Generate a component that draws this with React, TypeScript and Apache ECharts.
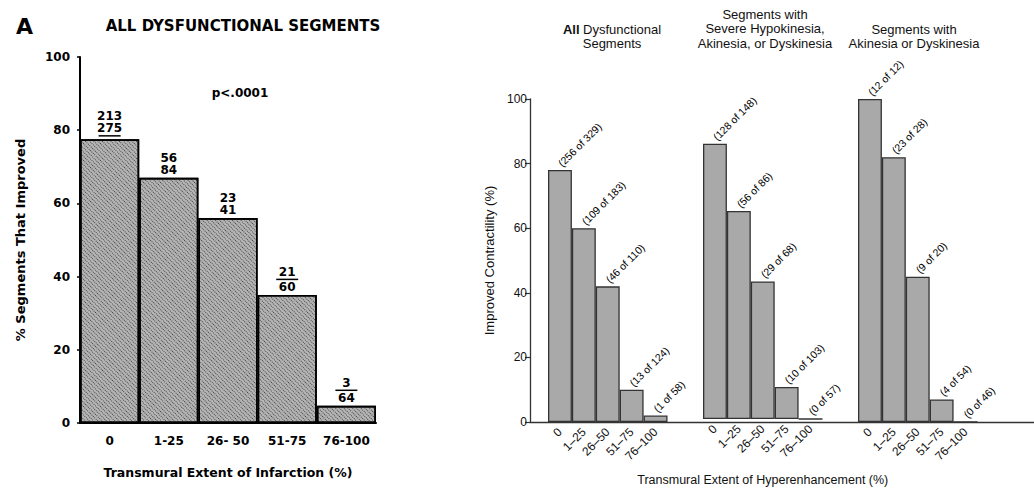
import React, { useEffect, useRef } from "react";
import * as echarts from "echarts";

// ---- Left panel (A) data ----
const leftCategories = ["0", "1-25", "26- 50", "51-75", "76-100"];
const leftValues = [77.5, 67, 56, 35, 4.7];
const leftImproved = ["213", "56", "23", "21", "3"];
const leftTotal = ["275", "84", "41", "60", "64"];
const leftRule = ["under", "none", "none", "between", "between"];
const leftYTicks = [0, 20, 40, 60, 80, 100];

// ---- Right panel data ----
const rightCategories = ["0", "1–25", "26–50", "51–75", "76–100"];
const groupTitles = [
  "{b|All} Dysfunctional\nSegments",
  "Segments with\nSevere Hypokinesia,\nAkinesia, or Dyskinesia",
  "Segments with\nAkinesia or Dyskinesia",
];
const groupValues = [
  [78, 60, 42, 10, 2],
  [86, 65, 43, 10, 0],
  [100, 82, 45, 7, 0],
];
const groupLabels = [
  ["(256 of 329)", "(109 of 183)", "(46 of 110)", "(13 of 124)", "(1 of 58)"],
  ["(128 of 148)", "(56 of 86)", "(29 of 68)", "(10 of 103)", "(0 of 57)"],
  ["(12 of 12)", "(23 of 28)", "(9 of 20)", "(4 of 54)", "(0 of 46)"],
];

const BOLD = "DejaVu Sans";
const SANS = "Liberation Sans, Arial, sans-serif";

export default function App() {
  const ref = useRef<HTMLDivElement>(null);

  useEffect(() => {
    if (!ref.current) return;
    const chart = echarts.init(ref.current, undefined, { renderer: "svg" });

    const groupLeft = [548, 703, 858];
    const groupWidth = 119.5;
    const rTop = 99;
    const rBottom = 69;

    const grids: any[] = [
      { left: 80, width: 296, top: 57, bottom: 68 },
      { left: 530, right: 0, top: rTop, bottom: rBottom },
      ...groupLeft.map((l) => ({ left: l, width: groupWidth, top: rTop, bottom: rBottom })),
    ];

    const xAxes: any[] = [
      {
        type: "category",
        gridIndex: 0,
        data: leftCategories,
        axisLine: { lineStyle: { color: "#000", width: 2 } },
        axisTick: { show: false },
        axisLabel: {
          color: "#000",
          fontFamily: BOLD,
          fontWeight: "bold",
          fontSize: 12,
          margin: 12,
          interval: 0,
        },
        name: "Transmural Extent of Infarction (%)",
        nameLocation: "middle",
        nameGap: 43,
        nameTextStyle: { color: "#000", fontFamily: BOLD, fontWeight: "bold", fontSize: 12.5 },
      },
      {
        type: "value",
        gridIndex: 1,
        min: 0,
        max: 1,
        axisLine: { show: true, onZero: false, lineStyle: { color: "#333", width: 1.3 } },
        axisTick: { show: false },
        axisLabel: { show: false },
        splitLine: { show: false },
      },
      ...groupLeft.map((_, g) => ({
        type: "category",
        gridIndex: 2 + g,
        data: rightCategories,
        axisLine: { show: false },
        axisTick: { show: false },
        axisLabel: {
          rotate: 45,
          color: "#111",
          fontFamily: SANS,
          fontSize: 12,
          margin: 8,
          interval: 0,
        },
        ...(g === 1
          ? {
              name: "Transmural Extent of Hyperenhancement (%)",
              nameLocation: "middle",
              nameGap: 54,
              nameTextStyle: { color: "#111", fontFamily: SANS, fontSize: 12.5 },
            }
          : {}),
      })),
    ];

    const yAxes: any[] = [
      {
        type: "value",
        gridIndex: 0,
        min: leftYTicks[0],
        max: leftYTicks[leftYTicks.length - 1],
        interval: 20,
        axisLine: { show: true, lineStyle: { color: "#000", width: 2 } },
        axisTick: { show: true, length: 3, lineStyle: { color: "#000", width: 1.5 } },
        axisLabel: {
          color: "#000",
          fontFamily: BOLD,
          fontWeight: "bold",
          fontSize: 12,
          margin: 10,
        },
        splitLine: { show: false },
        name: "% Segments That Improved",
        nameLocation: "middle",
        nameGap: 53,
        nameTextStyle: { color: "#000", fontFamily: BOLD, fontWeight: "bold", fontSize: 13 },
      },
      {
        type: "value",
        gridIndex: 1,
        min: 0,
        max: 100,
        interval: 20,
        axisLine: { show: true, lineStyle: { color: "#333", width: 1.3 } },
        axisTick: { show: true, length: 5, lineStyle: { color: "#333", width: 1.2 } },
        axisLabel: { color: "#111", fontFamily: SANS, fontSize: 12, margin: 3 },
        splitLine: { show: false },
        name: "Improved Contractility (%)",
        nameLocation: "middle",
        nameGap: 34,
        nameTextStyle: { color: "#111", fontFamily: SANS, fontSize: 13 },
      },
      ...groupLeft.map((_, g) => ({
        type: "value",
        gridIndex: 2 + g,
        min: 0,
        max: 100,
        show: false,
        splitLine: { show: false },
      })),
    ];

    const series: any[] = [
      {
        type: "bar",
        xAxisIndex: 0,
        yAxisIndex: 0,
        data: leftValues,
        barCategoryGap: "0%",
        itemStyle: {
          color: "#b4b4b4",
          borderColor: "#000",
          borderWidth: 1.6,
          decal: {
            symbol: "rect",
            symbolSize: 1,
            color: "rgba(20,20,20,0.7)",
            dashArrayX: [1, 1],
            dashArrayY: [1, 2],
            rotation: Math.PI / 4,
          },
        },
        label: {
          show: true,
          position: "top",
          distance: 2,
          formatter: (p: any) => {
            const i = p.dataIndex;
            const n = leftImproved[i];
            const d = leftTotal[i];
            if (leftRule[i] === "under") return `{n|${n}}\n{d|${d}}\n{u| }`;
            if (leftRule[i] === "between") return `{n|${n}}\n{u| }\n{d|${d}}`;
            return `{n|${n}}\n{d|${d}}`;
          },
          rich: {
            n: { fontFamily: BOLD, fontWeight: "bold", fontSize: 12, lineHeight: 12, color: "#000" },
            d: { fontFamily: BOLD, fontWeight: "bold", fontSize: 12, lineHeight: 12, color: "#000" },
            u: { width: 22, height: 1.5, lineHeight: 3, backgroundColor: "#000" },
          },
        },
      },
      ...groupValues.map((vals, g) => ({
        type: "bar",
        xAxisIndex: 2 + g,
        yAxisIndex: 2 + g,
        data: vals,
        barCategoryGap: "0%",
        itemStyle: { color: "#a9a9a9", borderColor: "#333", borderWidth: 1.3 },
        label: {
          show: true,
          position: "top",
          rotate: 45,
          align: "left",
          verticalAlign: "middle",
          distance: 5,
          color: "#000",
          textBorderWidth: 0,
          fontFamily: SANS,
          fontSize: 10.5,
          formatter: (p: any) => groupLabels[g][p.dataIndex],
        },
      })),
    ];

    const titleCenters = [607, 760, 909];
    const titles: any[] = [
      {
        text: "A",
        left: 11,
        top: 10,
        textStyle: { fontFamily: BOLD, fontWeight: "bold", fontSize: 22, color: "#000" },
      },
      {
        text: "ALL DYSFUNCTIONAL SEGMENTS",
        left: 238,
        top: 13,
        textAlign: "center",
        textStyle: { fontFamily: BOLD, fontWeight: "bold", fontSize: 15, color: "#000" },
      },
      {
        text: "p<.0001",
        left: 235,
        top: 82,
        textAlign: "center",
        textStyle: { fontFamily: BOLD, fontWeight: "bold", fontSize: 12, color: "#000" },
      },
      ...groupTitles.map((t, g) => ({
        text: t,
        left: titleCenters[g],
        top: g === 1 ? 2 : 17,
        textAlign: "center",
        textStyle: {
          fontFamily: SANS,
          fontWeight: "normal",
          fontSize: 13,
          lineHeight: 14.5,
          color: "#111",
          rich: { b: { fontFamily: SANS, fontWeight: "bold", fontSize: 13, lineHeight: 14.5, color: "#111" } },
        },
      })),
    ];

    chart.setOption({
      animation: false,
      backgroundColor: "#fff",
      title: titles,
      grid: grids,
      xAxis: xAxes,
      yAxis: yAxes,
      series,
    });

    return () => chart.dispose();
  }, []);

  return (
    <div
      ref={ref}
      style={{ position: "fixed", left: 0, top: 0, width: 1034, height: 491, background: "#fff" }}
    />
  );
}
